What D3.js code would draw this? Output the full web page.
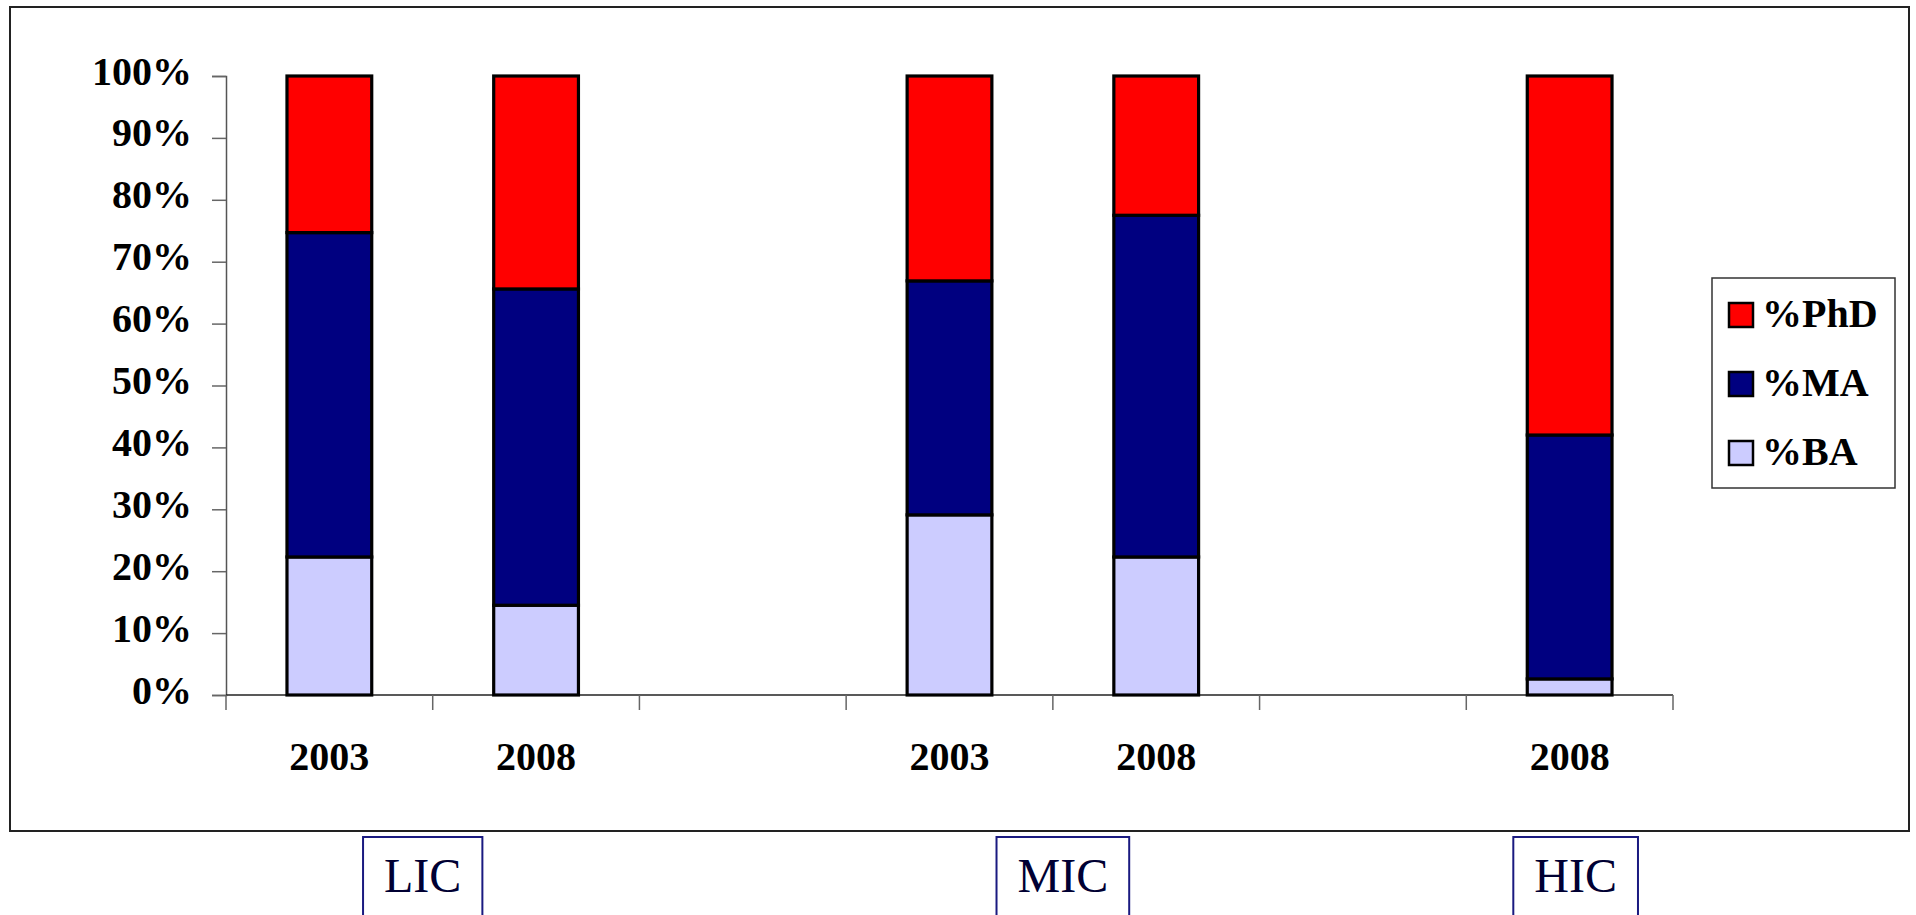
<!DOCTYPE html>
<html>
<head>
<meta charset="utf-8">
<script src="https://cdn.jsdelivr.net/npm/d3@7/dist/d3.min.js"></script>
<style>
  html, body { margin: 0; padding: 0; background: #ffffff; }
  svg { display: block; }
  text { font-family: "Liberation Serif", "Times New Roman", serif; }
</style>
</head>
<body>
<svg id="chart" width="1916" height="915"></svg>
<script>
// ---- data ----
const slots = ["LIC-2003", "LIC-2008", "gap1", "MIC-2003", "MIC-2008", "gap2", "HIC-2008"];
const slotLabels = ["2003", "2008", "", "2003", "2008", "", "2008"];
const seriesNames = ["%BA", "%MA", "%PhD"];
const pctBA  = [22.3, 14.5, null, 29.1, 22.3, null, 2.6];
const pctMA  = [52.4, 51.1, null, 37.8, 55.2, null, 39.4];
const pctPhD = [25.3, 34.4, null, 33.1, 22.5, null, 58.0];
const yTicks = [0, 10, 20, 30, 40, 50, 60, 70, 80, 90, 100];
const groups = ["LIC", "MIC", "HIC"];
const groupSlots = [["LIC-2003", "LIC-2008"], ["MIC-2003", "MIC-2008"], ["HIC-2008"]];
const colors = { "%BA": "#CCCCFF", "%MA": "#000080", "%PhD": "#FF0000" };

// ---- layout ----
const svg = d3.select("#chart");
const plot = { left: 226, right: 1673, top: 76, bottom: 695 };

// outer chart border
svg.append("rect")
  .attr("x", 10).attr("y", 7).attr("width", 1899).attr("height", 824)
  .attr("fill", "#fff").attr("stroke", "#222").attr("stroke-width", 2);

const x = d3.scaleBand().domain(slots).range([plot.left, plot.right]).padding(0);
const y = d3.scaleLinear().domain([0, 100]).range([plot.bottom, plot.top]);
const barW = x.bandwidth() * 0.41;

const table = slots.map((s, i) => ({
  slot: s, "%BA": pctBA[i] || 0, "%MA": pctMA[i] || 0, "%PhD": pctPhD[i] || 0, has: pctBA[i] !== null
}));
const stacked = d3.stack().keys(seriesNames)(table);

// y axis
const yAxis = d3.axisLeft(y).tickValues(yTicks).tickSize(14).tickPadding(20)
  .tickFormat(d => d + "%");
const gy = svg.append("g").attr("transform", `translate(${plot.left},0)`).call(yAxis);
gy.attr("font-family", null).attr("font-size", null);
gy.select(".domain").attr("stroke", "#555").attr("stroke-width", 1.5);
gy.selectAll(".tick line").attr("stroke", "#666").attr("stroke-width", 1.5);
gy.selectAll(".tick text")
  .attr("font-size", 40).attr("font-weight", "bold").attr("fill", "#000")
  .attr("dy", "0.2em");

// x axis
svg.append("line")
  .attr("x1", plot.left).attr("x2", plot.right)
  .attr("y1", plot.bottom).attr("y2", plot.bottom)
  .attr("stroke", "#222").attr("stroke-width", 1.5);
const boundaries = slots.map(s => x(s)).concat([x(slots[slots.length - 1]) + x.bandwidth()]);
svg.append("g").selectAll("line").data(boundaries).join("line")
  .attr("x1", d => d).attr("x2", d => d)
  .attr("y1", plot.bottom).attr("y2", plot.bottom + 15)
  .attr("stroke", "#666").attr("stroke-width", 1.5);
svg.append("g").selectAll("text").data(slots).join("text")
  .attr("x", d => x(d) + x.bandwidth() / 2)
  .attr("y", 770)
  .attr("text-anchor", "middle")
  .attr("font-size", 40).attr("font-weight", "bold").attr("fill", "#000")
  .text((d, i) => slotLabels[i]);

// bars
stacked.forEach(layer => {
  svg.append("g").selectAll("rect")
    .data(layer.filter(d => d.data.has))
    .join("rect")
    .attr("x", d => x(d.data.slot) + (x.bandwidth() - barW) / 2)
    .attr("y", d => y(d[1]))
    .attr("width", barW)
    .attr("height", d => y(d[0]) - y(d[1]))
    .attr("fill", colors[layer.key])
    .attr("stroke", "#000").attr("stroke-width", 3.2);
});

// legend
const lg = svg.append("g");
lg.append("rect").attr("x", 1712).attr("y", 278).attr("width", 183).attr("height", 210)
  .attr("fill", "#fff").attr("stroke", "#333").attr("stroke-width", 1.5);
const legendOrder = ["%PhD", "%MA", "%BA"];
const legendY = d3.scalePoint().domain(legendOrder).range([315, 453]);
legendOrder.forEach(k => {
  lg.append("rect").attr("x", 1729).attr("y", legendY(k) - 12).attr("width", 24).attr("height", 24)
    .attr("fill", colors[k]).attr("stroke", "#000").attr("stroke-width", 2.5);
  lg.append("text").attr("x", 1762).attr("y", legendY(k) + 12)
    .attr("font-size", 40).attr("font-weight", "bold").attr("fill", "#000").text(k);
});

// group boxes
groups.forEach((g, i) => {
  const ss = groupSlots[i];
  const cx = (x(ss[0]) + x(ss[ss.length - 1]) + x.bandwidth()) / 2 + (i === 0 ? -10 : i === 1 ? 10 : 6);
  const bg = svg.append("g");
  const box = bg.append("rect");
  const t = bg.append("text").attr("x", cx).attr("y", 892).attr("text-anchor", "middle")
    .attr("font-size", 48).attr("fill", "#000033").text(g);
  const w = t.node().getComputedTextLength() + 42;
  box.attr("x", cx - w / 2).attr("y", 837).attr("width", w).attr("height", 90)
    .attr("fill", "#fff").attr("stroke", "#1a1a80").attr("stroke-width", 2);
});
</script>
</body>
</html>
